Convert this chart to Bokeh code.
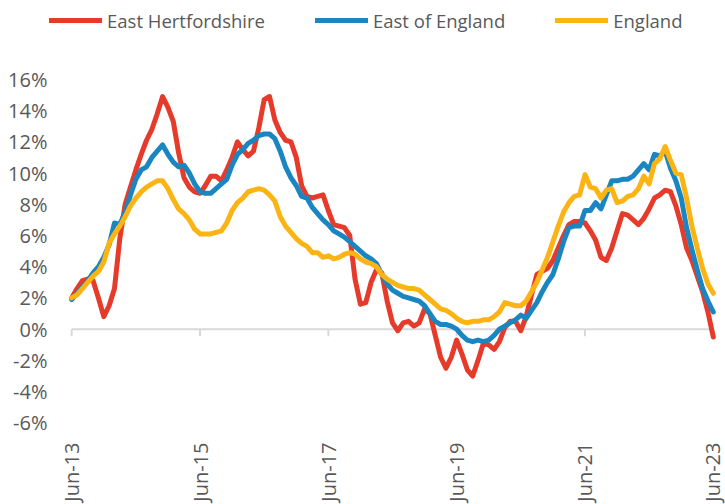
import math
import pandas as pd
from bokeh.plotting import figure
from bokeh.models import Range1d, FixedTicker, Legend, LegendItem, ColumnDataSource
from bokeh.embed import file_html
from bokeh.resources import INLINE

# ---- data ----
months = [d.strftime("%b-%y") for d in pd.date_range("2013-06-01", "2023-06-01", freq="MS")]
x_tick_labels = ["Jun-13", "Jun-15", "Jun-17", "Jun-19", "Jun-21", "Jun-23"]
y_ticks = [-6, -4, -2, 0, 2, 4, 6, 8, 10, 12, 14, 16]

east_herts = [
    2.0, 2.6, 3.1, 3.2, 3.1, 2.0, 0.8, 1.5, 2.6, 5.8, 8.0, 9.1,
    10.2, 11.2, 12.1, 12.8, 13.8, 14.9, 14.2, 13.3, 11.3, 9.7, 9.1, 8.8,
    8.7, 9.2, 9.8, 9.8, 9.5, 10.2, 11.0, 12.0, 11.5, 11.1, 11.4, 12.9,
    14.7, 14.9, 13.4, 12.6, 12.1, 12.0, 11.0, 9.2, 8.5, 8.4, 8.5, 8.6,
    7.6, 6.7, 6.6, 6.5, 6.0, 3.2, 1.6, 1.7, 3.0, 3.8, 3.6, 1.8,
    0.4, -0.1, 0.4, 0.5, 0.2, 0.4, 1.3, 1.0, -0.4, -1.8, -2.5, -1.8,
    -0.7, -1.6, -2.6, -3.0, -2.0, -0.9, -1.0, -1.3, -0.8, 0.1, 0.5, 0.5,
    -0.1, 0.8, 2.2, 3.5, 3.7, 3.9, 4.4, 5.2, 6.0, 6.7, 6.9, 6.9,
    6.8, 6.3, 5.7, 4.6, 4.4, 5.2, 6.3, 7.4, 7.3, 7.0, 6.7, 7.1,
    7.7, 8.4, 8.6, 8.9, 8.8, 7.9, 6.7, 5.2, 4.4, 3.4, 2.4, 1.1,
    -0.5,
]
east_of_england = [
    1.9, 2.3, 2.7, 3.1, 3.6, 4.0, 4.6, 5.4, 6.8, 6.7, 7.5, 8.6,
    9.6, 10.2, 10.4, 11.0, 11.4, 11.8, 11.2, 10.7, 10.4, 10.5, 10.0, 9.3,
    8.8, 8.7, 8.7, 9.0, 9.3, 9.6, 10.5, 11.2, 11.5, 11.9, 12.1, 12.4,
    12.5, 12.5, 12.2, 11.4, 10.4, 9.7, 9.2, 8.5, 8.4, 7.8, 7.4, 7.0,
    6.7, 6.3, 6.1, 5.9, 5.6, 5.3, 5.0, 4.7, 4.5, 4.2, 3.5, 2.9,
    2.5, 2.3, 2.1, 2.0, 1.9, 1.8, 1.5, 1.0, 0.5, 0.3, 0.3, 0.2,
    0.0, -0.4, -0.7, -0.8, -0.7, -0.8, -0.7, -0.4, 0.0, 0.2, 0.4, 0.6,
    0.9, 0.7, 1.2, 1.7, 2.4, 3.0, 3.5, 4.5, 5.6, 6.5, 6.6, 6.6,
    7.6, 7.6, 8.1, 7.7, 8.6, 9.5, 9.5, 9.6, 9.6, 9.8, 10.2, 10.6,
    10.2, 11.2, 11.1, 11.4, 10.3, 9.5, 8.4, 6.5, 5.1, 3.8, 2.6, 1.8,
    1.1,
]
england = [
    2.0, 2.2, 2.6, 3.0, 3.4, 3.7, 4.3, 5.5, 6.1, 6.6, 7.2, 7.9,
    8.4, 8.8, 9.1, 9.3, 9.5, 9.5, 9.0, 8.3, 7.7, 7.4, 7.0, 6.4,
    6.1, 6.1, 6.1, 6.2, 6.3, 6.8, 7.6, 8.1, 8.4, 8.8, 8.9, 9.0,
    8.9, 8.6, 8.2, 7.2, 6.6, 6.2, 5.8, 5.5, 5.3, 4.9, 4.9, 4.6,
    4.7, 4.5, 4.6, 4.8, 4.9, 4.8, 4.5, 4.3, 4.2, 4.0, 3.5, 3.2,
    3.0, 2.8, 2.7, 2.6, 2.6, 2.5, 2.2, 1.9, 1.6, 1.3, 1.2, 1.0,
    0.7, 0.5, 0.4, 0.5, 0.5, 0.6, 0.6, 0.8, 1.1, 1.7, 1.6, 1.5,
    1.5, 1.8, 2.4, 3.0, 3.8, 4.6, 5.6, 6.6, 7.5, 8.1, 8.5, 8.6,
    9.9, 9.1, 9.0, 8.4, 8.9, 9.0, 8.1, 8.2, 8.5, 8.6, 9.0, 9.8,
    9.3, 10.6, 10.9, 11.7, 10.8, 10.0, 9.9, 8.4, 6.6, 5.2, 3.9, 2.9,
    2.3,
]
series_names = ["East Hertfordshire", "East of England", "England"]

# ---- styles ----
COLORS = ["#E63A2B", "#1A86C1", "#FCB415"]
TEXT = "#595959"
AXIS = "#D9D9D9"
FONT = "Open Sans"

x = list(range(len(months)))
src = ColumnDataSource(dict(x=x, eh=east_herts, ee=east_of_england, en=england))

p = figure(width=725, height=504, output_backend="svg", toolbar_location=None,
           x_range=Range1d(-4.9, len(months) - 1 + 0.6),
           y_range=Range1d(-6.49, 21.05),
           min_border_left=45, min_border_right=9,
           min_border_top=0, min_border_bottom=73)
p.outline_line_color = None
p.grid.visible = False
p.background_fill_color = "white"
p.border_fill_color = "white"

tick_pos = [months.index(l) for l in x_tick_labels]

# zero axis line with tick marks
p.line(x=[x[0], x[-1]], y=[0, 0], line_color=AXIS, line_width=2)
p.segment(x0=tick_pos, x1=tick_pos, y0=[0] * len(tick_pos), y1=[-0.45] * len(tick_pos),
          line_color=AXIS, line_width=2)

renderers = []
for col, color in zip(["eh", "ee", "en"], COLORS):
    r = p.line("x", col, source=src, line_color=color, line_width=5,
               line_cap="round", line_join="round")
    renderers.append(r)

legend = Legend(
    items=[LegendItem(label=n, renderers=[r]) for n, r in zip(series_names, renderers)],
    orientation="horizontal", location=(4, 397),
    glyph_width=53, glyph_height=26, label_height=26, label_standoff=5, spacing=50,
    padding=0, margin=0, border_line_alpha=0, background_fill_alpha=0,
    label_text_font=FONT, label_text_font_size="18.5px", label_text_color=TEXT,
)
p.add_layout(legend)

# x axis (labels at bottom)
xa = p.xaxis[0]
xa.ticker = FixedTicker(ticks=tick_pos)
xa.major_label_overrides = {t: l for t, l in zip(tick_pos, x_tick_labels)}
xa.major_label_orientation = math.pi / 2
xa.axis_line_color = None
xa.major_tick_line_color = None
xa.minor_tick_line_color = None
xa.major_tick_out = 0
xa.major_tick_in = 0
xa.major_label_standoff = 12
xa.major_label_text_font = FONT
xa.major_label_text_font_size = "20px"
xa.major_label_text_color = TEXT

ya = p.yaxis[0]
ya.ticker = FixedTicker(ticks=y_ticks)
ya.major_label_overrides = {v: f"{v}%" for v in y_ticks}
ya.axis_line_color = None
ya.major_tick_line_color = None
ya.minor_tick_line_color = None
ya.major_tick_out = 0
ya.major_tick_in = 0
ya.major_label_standoff = -2
ya.major_label_text_font = FONT
ya.major_label_text_font_size = "20px"
ya.major_label_text_color = TEXT

open("out.html", "w").write(file_html(p, INLINE))
